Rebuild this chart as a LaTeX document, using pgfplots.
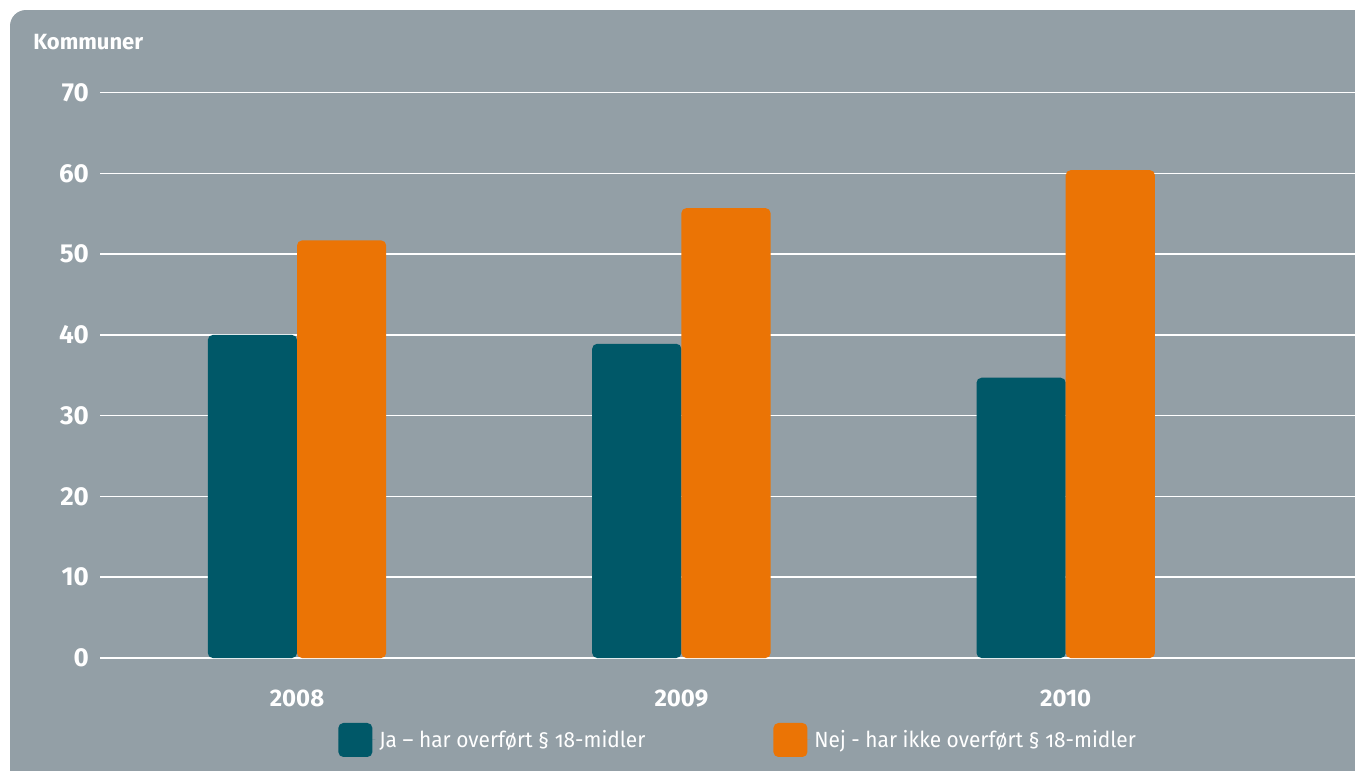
\documentclass[border=0pt]{standalone}
\usepackage{fontspec}
\setmainfont{Fira Sans}
\newfontfamily\legfont{Fira Sans}[FakeStretch=0.95, Numbers=OldStyle]
\usepackage{pgfplots}
\pgfplotsset{compat=1.18}
\definecolor{bgc}{HTML}{939FA6}
\definecolor{cteal}{HTML}{005868}
\definecolor{corange}{HTML}{EB7405}
\begin{document}
\begin{tikzpicture}
\useasboundingbox (0,0) rectangle (677.5pt,-385.5pt);
\begin{scope}
\clip (0,0) rectangle (677.5pt,-385.5pt);
\fill[bgc, rounded corners=8pt] (5pt,-5pt) rectangle (690pt,-395pt);
\end{scope}
\node[anchor=west, inner sep=0pt, font=\bfseries\fontsize{11}{13}\selectfont, text=white] at (16.5pt,-21pt) {Kommuner};
\begin{axis}[
  at={(50pt,-329pt)}, anchor=south west,
  scale only axis, width=627.5pt, height=282.7pt,
  xmin=-0.5126, xmax=2.7527, ymin=0, ymax=70,
  ybar=0pt, bar width=44.6pt,
  axis line style={draw=none}, tick style={draw=none},
  ytick={0,10,...,70}, ymajorgrids, grid style={white, line width=0.8pt},
  xtick={0,1,2}, xticklabels={2008,2009,2010},
  /pgf/number format/assume math mode=true,
  yticklabel style={font=\bfseries\fontsize{13}{15}\selectfont, text=white, xshift=-2pt},
  xticklabel style={font=\bfseries\fontsize{12}{14}\selectfont, text=white, yshift=-8pt},
  clip=false,
  legend columns=2,
  legend style={at={(0.1896,-0.145)}, anchor=west, draw=none, fill=none, inner sep=0pt,
    font=\legfont\fontsize{11}{13}\selectfont, text=white,
    /tikz/every even column/.append style={column sep=62pt}},
  legend image code/.code={\path[#1, draw=none, rounded corners=2.5pt] (0pt,-8.5pt) rectangle (17pt,8.5pt); \path (0pt,0pt) -- (18.5pt,0pt);},
]
\addplot[fill=cteal, draw=none, rounded corners=2.5pt] coordinates {(0,40) (1,38.9) (2,34.7)};
\addplot[fill=corange, draw=none, rounded corners=2.5pt] coordinates {(0,51.7) (1,55.7) (2,60.4)};
\legend{Ja – har overført § 18-midler, Nej - har ikke overført § 18-midler}
\end{axis}
\end{tikzpicture}
\end{document}
